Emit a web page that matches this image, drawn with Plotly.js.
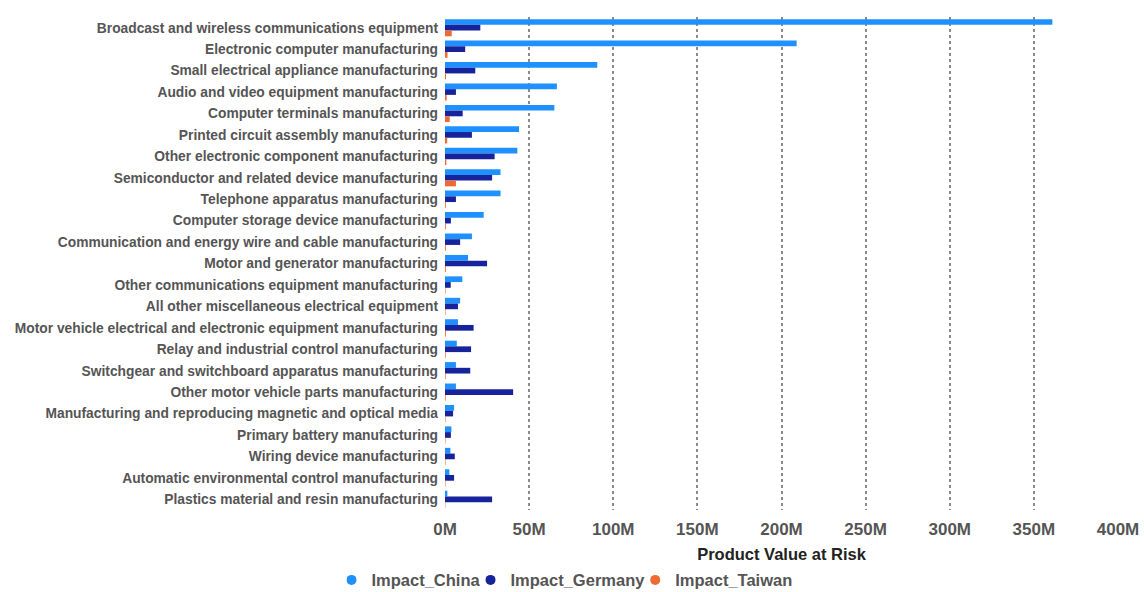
<!DOCTYPE html>
<html>
<head>
<meta charset="utf-8">
<script src="https://cdn.plot.ly/plotly-3.0.1.min.js"></script>
<style>html,body{margin:0;padding:0;background:#fff;}#chart{width:1144px;height:592px;}</style>
</head>
<body>
<div id="chart"></div>
<script>
const categories = [
  "Broadcast and wireless communications equipment",
  "Electronic computer manufacturing",
  "Small electrical appliance manufacturing",
  "Audio and video equipment manufacturing",
  "Computer terminals manufacturing",
  "Printed circuit assembly manufacturing",
  "Other electronic component manufacturing",
  "Semiconductor and related device manufacturing",
  "Telephone apparatus manufacturing",
  "Computer storage device manufacturing",
  "Communication and energy wire and cable manufacturing",
  "Motor and generator manufacturing",
  "Other communications equipment manufacturing",
  "All other miscellaneous electrical equipment",
  "Motor vehicle electrical and electronic equipment manufacturing",
  "Relay and industrial control manufacturing",
  "Switchgear and switchboard apparatus manufacturing",
  "Other motor vehicle parts manufacturing",
  "Manufacturing and reproducing magnetic and optical media",
  "Primary battery manufacturing",
  "Wiring device manufacturing",
  "Automatic environmental control manufacturing",
  "Plastics material and resin manufacturing"
];
// values in millions
const impactChina = [361, 209, 90.5, 66.5, 65, 44, 43, 33, 33, 23, 16, 13.7, 10.3, 9, 7.7, 7, 6.5, 6.5, 5.4, 3.8, 3.2, 2.6, 1.4];
const impactGermany = [21, 12, 18, 6.5, 10.5, 16, 29.5, 28, 6.5, 3.5, 9, 25, 3.4, 7.7, 17, 15.5, 15, 40.5, 4.8, 3.5, 5.8, 5.4, 28];
const impactTaiwan = [4, 1.5, 0.6, 1, 2.8, 1.3, 0.8, 6.5, 0.5, 0.5, 0.5, 0.5, 0.3, 0.3, 0.5, 0.4, 0.4, 0.4, 0.3, 0.3, 0.3, 0.3, 0.2];
const tickVals = [0, 50, 100, 150, 200, 250, 300, 350, 400];
const tickText = ["0M", "50M", "100M", "150M", "200M", "250M", "300M", "350M", "400M"];

const seriesNames = ["Impact_China", "Impact_Germany", "Impact_Taiwan"];
const seriesColors = ["#1E90FF", "#16239A", "#EE6A35"];
const seriesValues = [impactChina, impactGermany, impactTaiwan];

const traces = [];
seriesValues.forEach((vals, i) => {
  traces.push({
    type: "bar",
    orientation: "h",
    y: categories,
    x: vals.map(v => v * 1e6),
    name: seriesNames[i],
    marker: {color: seriesColors[i]},
    showlegend: false,
    legendgroup: seriesNames[i]
  });
});
seriesValues.forEach((vals, i) => {
  traces.push({
    type: "scatter",
    mode: "markers",
    x: [null],
    y: [null],
    name: seriesNames[i],
    marker: {color: seriesColors[i], size: 10, symbol: "circle"},
    legendgroup: seriesNames[i],
    hoverinfo: "skip"
  });
});

const layout = {
  width: 1144,
  height: 592,
  margin: {l: 445, r: 26, t: 17, b: 82},
  paper_bgcolor: "#fff",
  plot_bgcolor: "#fff",
  barmode: "group",
  bargap: 0.2,
  bargroupgap: 0,
  font: {family: "Liberation Sans, Arial, sans-serif", color: "#555"},
  xaxis: {
    range: [0, 4e8],
    tickvals: tickVals.map(v => v * 1e6),
    ticktext: tickText,
    showgrid: true,
    gridcolor: "#8a8a8a",
    gridwidth: 2,
    griddash: "dot",
    zeroline: false,
    showline: false,
    ticks: "",
    ticklabelstandoff: 7,
    tickfont: {size: 17, weight: "bold", color: "#555"},
    title: {text: "Product Value at Risk", font: {size: 16.5, weight: "bold", color: "#222"}, standoff: 13}
  },
  yaxis: {
    autorange: "reversed",
    showgrid: false,
    zeroline: false,
    showline: false,
    ticks: "",
    ticklabelstandoff: 6,
    tickfont: {size: 13.8, weight: "bold", color: "#555"}
  },
  legend: {
    orientation: "h",
    xref: "container",
    yref: "container",
    x: 0.5,
    xanchor: "center",
    y: 0.02,
    yanchor: "middle",
    itemwidth: 30,
    indentation: -15,
    font: {size: 16.5, weight: "bold", color: "#555"}
  }
};

Plotly.newPlot("chart", traces, layout, {displayModeBar: false, staticPlot: true});
</script>
</body>
</html>
